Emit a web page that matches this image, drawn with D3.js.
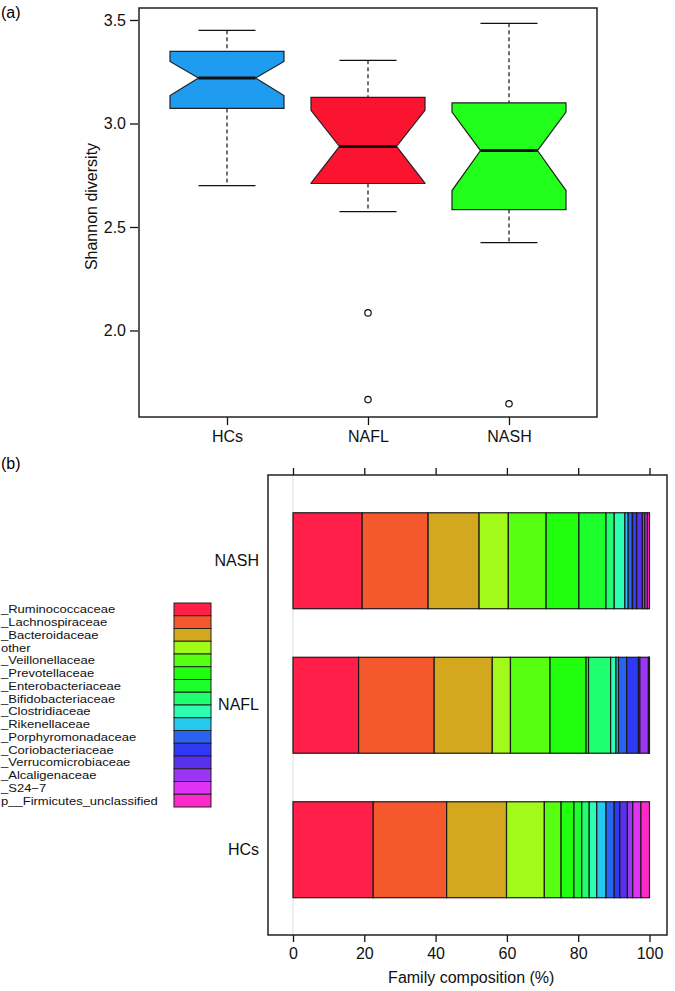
<!DOCTYPE html>
<html>
<head>
<meta charset="utf-8">
<script src="https://cdn.jsdelivr.net/npm/d3@7"></script>
<style>
  html, body { margin: 0; padding: 0; background: #fff; }
  svg { display: block; font-family: "Liberation Sans", Arial, Helvetica, sans-serif; }
</style>
</head>
<body>
<svg id="chart" width="675" height="991"></svg>
<script>
// ---------- Panel (a) data: Shannon diversity boxplots ----------
const boxCategories = ["HCs", "NAFL", "NASH"];
const whiskerLow  = [2.700, 2.574, 2.424];
const q1          = [3.073, 2.710, 2.584];
const median      = [3.220, 2.889, 2.869];
const q3          = [3.348, 3.126, 3.100];
const whiskerHigh = [3.450, 3.305, 3.484];
const notchLow    = [3.135, 2.712, 2.676];
const notchHigh   = [3.300, 3.064, 3.055];
const outliers    = [[], [2.085, 1.666], [1.646]];
const shannonTicks = [2.0, 2.5, 3.0, 3.5];
const boxColors = ["#1F9BF0", "#FA1430", "#22FF1A"];

// ---------- Panel (b) data: family composition (%) ----------
const families = [
  "_Ruminococcaceae", "_Lachnospiraceae", "_Bacteroidaceae", "other",
  "_Veillonellaceae", "_Prevotellaceae", "_Enterobacteriaceae", "_Bifidobacteriaceae",
  "_Clostridiaceae", "_Rikenellaceae", "_Porphyromonadaceae", "_Coriobacteriaceae",
  "_Verrucomicrobiaceae", "_Alcaligenaceae", "_S24\u22127", "p__Firmicutes_unclassified"
];
const familyColors = [
  "#FF1F48", "#F4582C", "#D3A81F", "#A2FA1A",
  "#57FF10", "#22FF0E", "#1CFF2C", "#20FF70",
  "#2CFFB0", "#26C8EF", "#2864EF", "#2E38F5",
  "#5730F0", "#9B36F5", "#E032F5", "#FF28C8"
];
const barGroups = ["NASH", "NAFL", "HCs"];
const nashComposition = [19.4, 18.5, 14.3, 8.2, 10.6, 9.2, 7.6, 2.3, 3.0, 0.9, 1.2, 1.2, 1.6, 0.7, 0.7, 0.6];
const naflComposition = [18.4, 21.2, 16.3, 5.1, 11.1, 10.1, 0.7, 6.2, 1.5, 0.7, 2.3, 3.3, 0.4, 2.4, 0.15, 0.15];
const hcsComposition  = [22.5, 20.6, 16.8, 10.6, 4.7, 3.6, 2.2, 2.1, 2.1, 2.6, 2.3, 1.6, 2.1, 1.5, 2.3, 2.4];
const compTicks = [0, 20, 40, 60, 80, 100];

const svg = d3.select("#chart");
const FONT = 16;

// ================= Panel (a) =================
const aBox = { left: 139, right: 597, top: 8, bottom: 417 };
const yA = d3.scaleLinear().domain([1.582, 3.558]).range([aBox.bottom, aBox.top]);
const xA = d3.scalePoint().domain(boxCategories).range([227, 509]);
const halfW = 57;

svg.append("text").attr("x", 1).attr("y", 18).attr("font-size", FONT).text("(a)");

const gA = svg.append("g");
const yAxisA = d3.axisLeft(yA).tickValues(shannonTicks).tickFormat(d3.format(".1f")).tickSize(8).tickPadding(4);
const yAxG = gA.append("g").attr("transform", `translate(${aBox.left - 1},0)`).call(yAxisA);
yAxG.select(".domain").remove();
yAxG.selectAll("line").attr("stroke", "#111").attr("stroke-width", 1.3);
yAxG.selectAll("text").attr("font-size", FONT).attr("fill", "#111");

const xAxisA = d3.axisBottom(xA).tickSize(8).tickPadding(6);
const xAxG = gA.append("g").attr("transform", `translate(0,${aBox.bottom})`).call(xAxisA);
xAxG.select(".domain").remove();
xAxG.selectAll("line").attr("stroke", "#111").attr("stroke-width", 1.3);
xAxG.selectAll("text").attr("font-size", FONT).attr("fill", "#111");

gA.append("text")
  .attr("transform", `translate(97,${(aBox.top + aBox.bottom) / 2 - 6}) rotate(-90)`)
  .attr("text-anchor", "middle").attr("font-size", FONT).attr("fill", "#111")
  .text("Shannon diversity");

boxCategories.forEach((c, i) => {
  const cx = xA(c);
  const g = gA.append("g");
  g.append("line").attr("x1", cx).attr("x2", cx).attr("y1", yA(whiskerHigh[i])).attr("y2", yA(q3[i]))
    .attr("stroke", "#111").attr("stroke-width", 1.2).attr("stroke-dasharray", "4,3");
  g.append("line").attr("x1", cx).attr("x2", cx).attr("y1", yA(q1[i])).attr("y2", yA(whiskerLow[i]))
    .attr("stroke", "#111").attr("stroke-width", 1.2).attr("stroke-dasharray", "4,3");
  [whiskerHigh[i], whiskerLow[i]].forEach(v => {
    g.append("line").attr("x1", cx - halfW / 2).attr("x2", cx + halfW / 2)
      .attr("y1", yA(v)).attr("y2", yA(v)).attr("stroke", "#111").attr("stroke-width", 1.3);
  });
  const nf = 0.5;
  const pts = [
    [cx - halfW, yA(q1[i])], [cx + halfW, yA(q1[i])],
    [cx + halfW, yA(notchLow[i])], [cx + halfW * nf, yA(median[i])],
    [cx + halfW, yA(notchHigh[i])], [cx + halfW, yA(q3[i])],
    [cx - halfW, yA(q3[i])], [cx - halfW, yA(notchHigh[i])],
    [cx - halfW * nf, yA(median[i])], [cx - halfW, yA(notchLow[i])]
  ];
  g.append("path").attr("d", d3.line()(pts) + "Z")
    .attr("fill", boxColors[i]).attr("stroke", "#222").attr("stroke-width", 1.2)
    .attr("stroke-linejoin", "miter");
  g.append("line").attr("x1", cx - halfW * nf).attr("x2", cx + halfW * nf)
    .attr("y1", yA(median[i])).attr("y2", yA(median[i]))
    .attr("stroke", "#111").attr("stroke-width", 3);
  outliers[i].forEach(v => {
    g.append("circle").attr("cx", cx).attr("cy", yA(v)).attr("r", 3.2)
      .attr("fill", "none").attr("stroke", "#111").attr("stroke-width", 1.2);
  });
});

gA.append("rect").attr("x", aBox.left).attr("y", aBox.top)
  .attr("width", aBox.right - aBox.left).attr("height", aBox.bottom - aBox.top)
  .attr("fill", "none").attr("stroke", "#222").attr("stroke-width", 1.5);

// ================= Panel (b) =================
svg.append("text").attr("x", 1).attr("y", 469).attr("font-size", FONT).text("(b)");

const bBox = { left: 268, right: 667, top: 475, bottom: 935 };
const xB = d3.scaleLinear().domain([0, 100]).range([293, 649.5]);
const yB = d3.scaleBand().domain(barGroups).range([488.5, 922]).paddingInner(0.336).paddingOuter(0.168);
const gB = svg.append("g");

gB.append("line").attr("x1", xB(0)).attr("x2", xB(0)).attr("y1", bBox.top).attr("y2", bBox.bottom)
  .attr("stroke", "#e2e2e2").attr("stroke-width", 1.2);

const compByGroup = { NASH: nashComposition, NAFL: naflComposition, HCs: hcsComposition };
barGroups.forEach(grp => {
  const vals = compByGroup[grp];
  let acc = 0;
  const segs = vals.map((v, k) => { const s = { k, x0: acc, x1: acc + v }; acc += v; return s; });
  gB.append("g").selectAll("rect").data(segs).join("rect")
    .attr("x", d => xB(d.x0)).attr("width", d => xB(d.x1) - xB(d.x0))
    .attr("y", yB(grp)).attr("height", yB.bandwidth())
    .attr("fill", d => familyColors[d.k])
    .attr("stroke", "#1a1a1a").attr("stroke-width", 1.2);
});

const yAxisB = d3.axisLeft(yB).tickSize(0).tickPadding(8);
const yBG = gB.append("g").attr("transform", `translate(${bBox.left - 1},0)`).call(yAxisB);
yBG.select(".domain").remove();
yBG.selectAll("text").attr("font-size", FONT).attr("fill", "#111");

const xAxisB = d3.axisBottom(xB).tickValues(compTicks).tickSize(7).tickPadding(6);
const xBG = gB.append("g").attr("transform", `translate(0,${bBox.bottom})`).call(xAxisB);
xBG.select(".domain").remove();
xBG.selectAll("line").attr("stroke", "#111").attr("stroke-width", 1.3);
xBG.selectAll("text").attr("font-size", FONT).attr("fill", "#111");

const xAxisT = d3.axisTop(xB).tickValues(compTicks).tickSize(7).tickFormat("");
const xTG = gB.append("g").attr("transform", `translate(0,${bBox.top})`).call(xAxisT);
xTG.select(".domain").remove();
xTG.selectAll("line").attr("stroke", "#111").attr("stroke-width", 1.3);

gB.append("text").attr("x", (xB(0) + xB(100)) / 2).attr("y", 983)
  .attr("text-anchor", "middle").attr("font-size", FONT).attr("fill", "#111")
  .text("Family composition (%)");

gB.append("rect").attr("x", bBox.left).attr("y", bBox.top)
  .attr("width", bBox.right - bBox.left).attr("height", bBox.bottom - bBox.top)
  .attr("fill", "none").attr("stroke", "#222").attr("stroke-width", 1.5);

// legend
const legY = d3.scaleBand().domain(d3.range(families.length)).range([603, 807]);
const gL = svg.append("g");
families.forEach((f, k) => {
  gL.append("rect").attr("x", 174).attr("y", legY(k)).attr("width", 37).attr("height", legY.bandwidth())
    .attr("fill", familyColors[k]).attr("stroke", "#222").attr("stroke-width", 1);
  const t = gL.append("text").attr("x", 1).attr("y", legY(k) + legY.bandwidth() / 2 + 4)
    .attr("font-size", 13).attr("fill", "#111").text(f);
  const w = t.node().getComputedTextLength();
  t.attr("font-size", 11).attr("textLength", w).attr("lengthAdjust", "spacingAndGlyphs");
});
</script>
</body>
</html>
